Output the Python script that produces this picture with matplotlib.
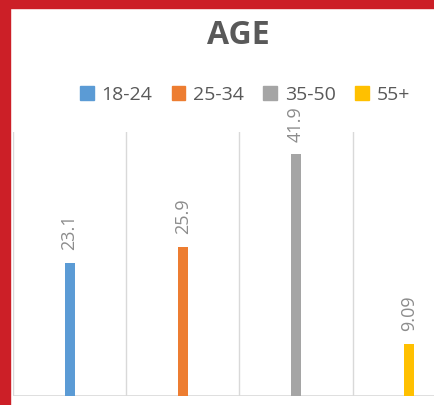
import matplotlib
matplotlib.use("Agg")
import matplotlib.pyplot as plt
from matplotlib.patches import Patch, Rectangle

# chart data
age_groups = ["18-24", "25-34", "35-50", "55+"]
shares = [23.1, 25.9, 41.9, 9.09]
label_text = ["23.1", "25.9", "41.9", "9.09"]
bar_colors = ["#5B9BD5", "#ED7D31", "#A5A5A5", "#FFC000"]

plt.rcParams["font.family"] = ["Open Sans", "DejaVu Sans"]

fig = plt.figure(figsize=(4.35, 4.05), dpi=100)
fig.patch.set_facecolor("white")

# red frame on the left and top edges
fig.patches.append(Rectangle((0, 0), 10 / 435, 1, transform=fig.transFigure,
                             color="#CC1F27", zorder=10))
fig.patches.append(Rectangle((0, 1 - 8 / 405), 1, 8 / 405, transform=fig.transFigure,
                             color="#CC1F27", zorder=10))

ax = fig.add_axes([13 / 435, 9 / 405, 453 / 435, 264 / 405])
x = range(len(age_groups))
bars = ax.bar(x, shares, width=0.09, color=bar_colors, zorder=3)
ax.bar_label(bars, labels=label_text, rotation=90, padding=9,
             color="#8C8C8C", fontsize=13)

ax.set_xlim(-0.5, len(age_groups) - 0.5)
ax.set_ylim(0, 45.8)
for b in range(len(age_groups)):
    ax.axvline(b - 0.5, color="#D9D9D9", lw=1, zorder=1)
ax.axhline(0, color="#D9D9D9", lw=1.2, zorder=2)
ax.set_xticks([])
ax.set_yticks([])
for s in ax.spines.values():
    s.set_visible(False)

fig.text(0.549, 1 - 35 / 405, "AGE", ha="center", va="center",
         fontsize=23, fontweight="bold", color="#595959")

handles = [Patch(color=c) for c in bar_colors]
fig.legend(handles, age_groups, loc="center", bbox_to_anchor=(0.563, 1 - 95 / 405),
           ncol=4, frameon=False, fontsize=14, handlelength=0.7, handleheight=0.7,
           handletextpad=0.4, columnspacing=1.0, labelcolor="#595959")

fig.savefig("out.png", dpi=100)
